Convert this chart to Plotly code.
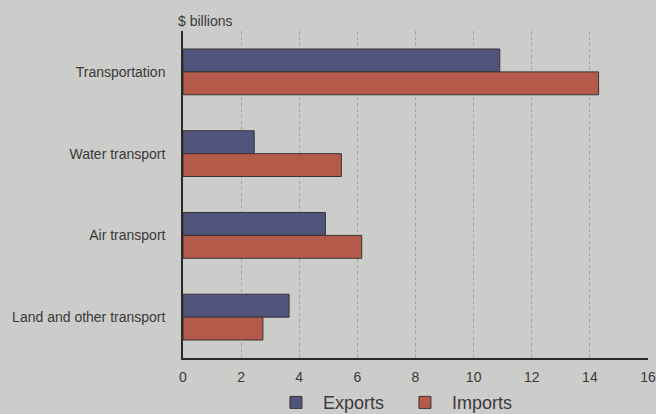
import plotly.graph_objects as go

categories = ["Transportation", "Water transport", "Air transport", "Land and other transport"]
exports = [10.9, 2.45, 4.9, 3.65]
imports = [14.3, 5.45, 6.15, 2.75]
x_ticks = [0, 2, 4, 6, 8, 10, 12, 14, 16]

bg = "#cccccb"
text_col = "#3a3a3a"

fig = go.Figure()
fig.add_trace(go.Bar(
    y=categories, x=exports, name="Exports", orientation="h",
    marker=dict(color="#51557e", line=dict(color="#3b3434", width=1)),
))
fig.add_trace(go.Bar(
    y=categories, x=imports, name="Imports", orientation="h",
    marker=dict(color="#b35a4a", line=dict(color="#3b3434", width=1)),
))

fig.update_layout(
    width=656, height=414,
    paper_bgcolor=bg, plot_bgcolor=bg,
    margin=dict(l=183, r=8, t=31, b=56, autoexpand=False),
    barmode="group", bargap=0.44, bargroupgap=0,
    font=dict(family="Liberation Sans, Arial, sans-serif", size=14, color=text_col),
    showlegend=True,
    legend=dict(
        orientation="h", xref="container", yref="container",
        x=0.41, xanchor="left", y=0.072, yanchor="top",
        font=dict(size=18, color=text_col), itemwidth=44,
        entrywidth=70, entrywidthmode="pixels",
        bgcolor="rgba(0,0,0,0)",
    ),
    annotations=[dict(
        text="$ billions", xref="paper", yref="paper", x=-0.015, y=1.0,
        xanchor="left", yanchor="bottom", showarrow=False, yshift=0,
        font=dict(size=14, color=text_col),
    )],
)

fig.update_xaxes(
    range=[0, 16], tickvals=x_ticks, ticktext=[str(v) for v in x_ticks],
    showgrid=True, gridcolor="#a2a2a2", griddash="dot", gridwidth=1,
    showline=True, linecolor="#2a2a2a", linewidth=1.5,
    zeroline=False, ticks="outside", ticklen=5, tickcolor="rgba(0,0,0,0)",
    tickfont=dict(size=14, color=text_col),
)
fig.update_yaxes(
    autorange="reversed", showgrid=False, zeroline=False,
    showline=True, linecolor="#2a2a2a", linewidth=1.5,
    ticks="outside", ticklen=13, tickcolor="rgba(0,0,0,0)",
    tickfont=dict(size=14, color=text_col),
)

fig.write_html("out.html")
